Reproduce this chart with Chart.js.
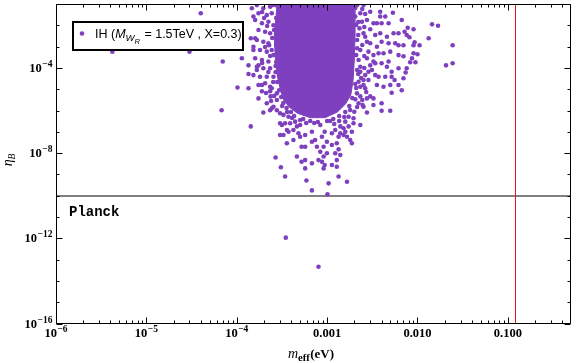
<!DOCTYPE html>
<html><head><meta charset="utf-8">
<script src="https://cdn.jsdelivr.net/npm/chart.js@4/dist/chart.umd.min.js"></script>
<style>html,body{margin:0;padding:0;background:#fff;}canvas{display:block;}</style>
</head><body>
<canvas id="c" width="576" height="363" style="width:576px;height:363px"></canvas>
<script>
// ---- data ----
const seriesLabel = 'IH';
// scattered points: m_eff (eV)
const mEff = [
4.2e-6,3.0e-5,4.0e-5,7.0e-5,6.8e-5,1.02e-4,1.14e-4,1.43e-4,1.35e-4,1.35e-4,1.35e-4,1.43e-4,1.47e-4,1.53e-4,1.53e-4,1.53e-4,1.53e-4,
1.60e-4,1.60e-4,1.60e-4,1.67e-4,1.67e-4,1.67e-4,1.67e-4,1.74e-4,1.74e-4,1.74e-4,1.74e-4,1.74e-4,1.81e-4,1.81e-4,1.90e-4,1.90e-4,1.90e-4,1.90e-4,
1.97e-4,1.97e-4,1.97e-4,1.97e-4,2.06e-4,2.06e-4,2.15e-4,2.15e-4,2.15e-4,2.15e-4,2.24e-4,2.24e-4,2.24e-4,2.34e-4,2.34e-4,2.34e-4,2.34e-4,2.34e-4,2.34e-4,
2.37e-4,2.44e-4,2.44e-4,2.44e-4,2.44e-4,2.55e-4,2.55e-4,2.55e-4,2.69e-4,2.78e-4,2.78e-4,2.78e-4,3.02e-4,3.02e-4,3.02e-4,3.08e-4,3.16e-4,3.29e-4,3.29e-4,
3.43e-4,3.43e-4,3.49e-4,3.59e-4,3.59e-4,3.74e-4,3.74e-4,3.90e-4,4.24e-4,4.24e-4,4.43e-4,4.63e-4,4.63e-4,4.82e-4,5.03e-4,5.03e-4,5.22e-4,5.22e-4,
5.72e-4,5.72e-4,5.72e-4,5.72e-4,5.91e-4,6.79e-4,6.79e-4,6.79e-4,6.79e-4,7.37e-4,7.71e-4,8.03e-4,8.03e-4,8.4e-4,8.77e-4,8.77e-4,9.15e-4,9.15e-4,9.15e-4,
9.4e-4,9.4e-4,9.95e-4,9.95e-4,1.01e-3,1.04e-3,1.13e-3,1.13e-3,1.13e-3,1.23e-3,1.23e-3,1.28e-3,1.28e-3,1.28e-3,1.34e-3,1.34e-3,1.34e-3,1.40e-3,1.40e-3,1.40e-3,
1.52e-3,1.52e-3,1.59e-3,1.59e-3,1.66e-3,1.66e-3,1.73e-3,1.73e-3,1.80e-3,1.88e-3,1.88e-3,1.96e-3,1.96e-3,2.0e-3,2.05e-3,2.05e-3,2.14e-3,2.23e-3,2.23e-3,2.23e-3,
2.28e-3,2.33e-3,2.33e-3,2.33e-3,2.33e-3,2.33e-3,2.33e-3,2.33e-3,2.43e-3,2.47e-3,2.53e-3,2.53e-3,2.53e-3,2.53e-3,2.53e-3,2.64e-3,2.64e-3,2.64e-3,2.64e-3,
2.76e-3,2.76e-3,2.76e-3,2.76e-3,2.76e-3,2.87e-3,2.87e-3,2.87e-3,3.0e-3,3.0e-3,3.0e-3,3.0e-3,3.0e-3,3.13e-3,3.26e-3,3.26e-3,3.26e-3,3.26e-3,3.26e-3,
3.41e-3,3.41e-3,3.41e-3,3.56e-3,3.56e-3,3.56e-3,3.71e-3,3.71e-3,3.87e-3,3.87e-3,3.87e-3,4.01e-3,4.01e-3,4.01e-3,4.01e-3,4.01e-3,4.21e-3,4.21e-3,
4.40e-3,4.40e-3,4.59e-3,4.59e-3,4.79e-3,4.79e-3,4.79e-3,5.0e-3,5.0e-3,5.0e-3,5.18e-3,5.18e-3,5.18e-3,5.35e-3,5.44e-3,5.58e-3,5.67e-3,
6.17e-3,6.17e-3,6.17e-3,6.17e-3,6.17e-3,6.7e-3,6.7e-3,7.0e-3,7.0e-3,7.0e-3,7.2e-3,7.4e-3,7.6e-3,7.6e-3,7.8e-3,8.15e-3,8.3e-3,8.7e-3,
9.05e-3,9.05e-3,9.05e-3,9.3e-3,9.5e-3,1.0e-2,1.055e-2,1.33e-2,1.45e-2,1.69e-2,2.07e-2,2.45e-2,2.45e-2,
2.69e-4,2.73e-4,2.59e-4,2.73e-4,2.55e-4,2.73e-4,2.69e-4,2.8e-4,2.95e-4,3.1e-4,3.28e-4,3.56e-4,3.99e-4,4.32e-4,
2.05e-3,2.1e-3,2.15e-3,2.1e-3,2.15e-3,2.05e-3,1.9e-3,1.76e-3,1.59e-3,1.36e-3,1.17e-3,1.0e-3,7.9e-4,6.5e-4,5.44e-4,
1.91e-4,2.17e-4,2.47e-4,2.06e-4,2.34e-4,1.91e-4,2.24e-4,2.53e-4,2.11e-4,2.59e-4,2.47e-4,2.01e-4,2.28e-4,2.69e-4,2.40e-4,
2.15e-3,2.45e-3,2.21e-3,2.58e-3,2.21e-3,2.45e-3,2.15e-3,2.58e-3,2.21e-3,2.58e-3,2.38e-3,2.1e-3,2.71e-3,2.45e-3,2.15e-3,
1.80e-3,1.55e-3,1.36e-3,1.20e-3,1.08e-3,8.4e-4,7.2e-4,5.87e-4,5.03e-4,4.1e-4,3.61e-4,3.18e-4
];
// scattered points: eta_B
const etaB = [
5.8e-4,5.8e-4,3.66e-2,2.0e-4,1.03e-6,1.2e-5,2.82e-4,1.79e-7,5.2e-5,1.32e-4,1.1e-5,2.45e-3,6.3e-2,2.6e-2,9.9e-4,6.9e-4,4.6e-5,
2.45e-3,1.77e-2,2.82e-4,8.9e-2,2.04e-3,1.14e-4,7.95e-5,3.66e-2,6.0e-3,1.32e-4,1.57e-5,3.7e-6,6.9e-4,3.86e-5,1.24e-2,2.35e-4,1.57e-5,8.0e-6,
6.3e-2,1.70e-3,9.6e-5,8.1e-7,5.0e-3,1.89e-5,3.0e-2,5.8e-4,3.86e-5,2.18e-6,1.47e-2,1.43e-3,2.0e-4,7.5e-2,4.2e-3,9.6e-5,1.31e-5,8.0e-6,1.03e-6,
4.6e-6,1.27e-6,3.66e-2,6.9e-4,1.1e-5,1.0e-2,3.86e-5,1.5e-6,6.2e-9,6.4e-6,3.1e-6,1.03e-6,7.4e-7,2.5e-7,7.1e-8,2.15e-9,2.1e-7,6.2e-7,7.1e-8,
2.5e-7,8.0e-10,1.07e-12,1.21e-7,2.9e-8,5.1e-7,1.01e-7,2.5e-7,1.21e-7,4.1e-8,3.0e-7,1.79e-7,6.9e-9,8.5e-8,2.1e-7,5.9e-8,2.0e-8,3.95e-9,
7.1e-8,2.0e-8,4.7e-9,1.91e-9,5.2e-10,1.01e-7,3.4e-8,3.3e-9,1.77e-10,4.1e-8,2.0e-8,4.7e-9,4.6e-14,1.16e-8,5.9e-8,3.95e-9,2.0e-8,6.9e-9,1.91e-9,
2.76e-9,1.01e-7,3.4e-8,9.8e-9,1.16e-10,3.8e-10,8.5e-8,2.4e-8,2.76e-9,1.21e-7,9.8e-9,2.9e-8,4.7e-9,2.3e-9,5.9e-8,1.5e-8,8.0e-10,1.79e-7,8.5e-8,8.1e-9,
1.46e-7,7.1e-8,3.0e-7,1.01e-7,5.9e-8,4.5e-10,5.1e-7,1.79e-7,4.1e-8,1.01e-7,2.9e-8,4.3e-7,2.5e-7,8.8e-7,3.35e-6,2.6e-2,6.4e-6,2.35e-4,2.25e-5,2.18e-6,
7.2e-3,3.66e-2,6.9e-4,1.14e-4,6.6e-5,1.31e-5,4.6e-6,2.1e-7,1.47e-2,1.81e-6,8.9e-2,4.2e-3,2.7e-5,1.57e-5,1.5e-6,3.4e-2,2.9e-3,4.6e-5,1.1e-5,
1.77e-2,1.70e-3,2.82e-4,3.7e-6,8.1e-7,5.8e-4,6.6e-5,2.7e-5,4.35e-2,6.5e-3,1.43e-3,1.32e-4,4.6e-6,7.95e-5,1.24e-2,4.0e-4,2.0e-4,3.7e-6,1.81e-6,
3.5e-3,1.64e-4,4.6e-5,1.24e-2,9.9e-4,1.57e-5,4.85e-4,3.86e-5,4.35e-2,2.6e-2,4.2e-3,1.24e-2,1.70e-3,1.64e-4,2.18e-6,9.8e-7,4.85e-4,1.31e-5,
2.6e-2,3.86e-5,2.9e-3,1.14e-4,1.24e-2,1.43e-3,2.0e-4,5.8e-4,1.57e-5,9.8e-7,6.6e-5,3.86e-5,6.8e-6,3.9e-2,4.2e-3,2.7e-5,1.43e-3,
4.2e-3,1.15e-3,4.0e-4,9.6e-5,1.57e-5,1.77e-2,8.9e-6,1.15e-3,3.5e-4,3.25e-5,5.0e-3,6.1e-5,3.5e-3,9.6e-5,7.7e-3,2.73e-3,1.83e-4,2.82e-4,
6.5e-3,1.15e-3,4.85e-4,1.59e-3,1.83e-4,4.4e-4,1.15e-3,2.45e-3,1.11e-2,9.6e-3,1.32e-4,1.15e-3,1.64e-4,
8.9e-2,2.2e-2,6.0e-3,1.15e-3,4.0e-4,1.89e-4,6.4e-5,2.18e-5,8.9e-6,4.3e-6,2.25e-6,1.31e-6,8.5e-7,5.5e-7,
6.5e-2,1.03e-2,2.04e-3,4.0e-4,7.95e-5,1.75e-5,3.86e-6,1.63e-6,8.5e-7,5.5e-7,4.0e-7,3.2e-7,2.9e-7,3.2e-7,4.0e-7,
4.2e-2,9.3e-3,2.53e-3,9.6e-4,3.62e-4,1.70e-4,6.4e-5,2.18e-5,6.6e-6,4.8e-6,8.9e-2,2.2e-2,1.15e-3,1.23e-4,2.79e-6,
8.9e-2,5.8e-2,1.43e-2,8.3e-3,3.5e-3,1.19e-3,8.3e-4,3.62e-4,5.2e-5,9.9e-5,3.36e-5,1.14e-5,7.4e-6,3.1e-6,1.46e-6,
1.05e-6,4.95e-7,3.2e-7,2.32e-7,3.2e-7,2.1e-7,2.59e-7,2.59e-7,3.6e-7,4.45e-7,8.5e-7,1.63e-6
];
// outline of the saturated (solid) part of the point cloud
const coreMEff = [2.8e-4,2.73e-4,2.6e-4,2.66e-4,2.8e-4,3.05e-4,3.3e-4,3.8e-4,4.7e-4,6.5e-4,9.5e-4,1.3e-3,1.6e-3,1.83e-3,1.94e-3,2.0e-3,2.04e-3,2.04e-3,2.04e-3,2.8e-4];
const coreEta  = [0.12,3.0e-2,3.5e-3,4.0e-4,4.6e-5,8.9e-6,3.1e-6,1.46e-6,7.4e-7,4.6e-7,4.6e-7,8.5e-7,2.02e-6,5.35e-6,2.7e-5,2.35e-4,3.5e-3,3.0e-2,0.12,0.12];
// reference lines
const planckEta = 1e-10;
const mEffBound = 0.12;
// axes
const xMin = 1e-6, xMax = 0.5, yMin = 1e-16, yMax = 1e-1;
const xTickValues = [1e-6,1e-5,1e-4,1e-3,1e-2,1e-1];
const xTickLabels = [['10','\u22126'],['10','\u22125'],['10','\u22124'],['0.001',''],['0.010',''],['0.100','']];
const yTickValues = [1e-16,1e-15,1e-14,1e-13,1e-12,1e-11,1e-10,1e-9,1e-8,1e-7,1e-6,1e-5,1e-4,1e-3,1e-2,1e-1];
const yTickLabels = [['10','\u221216'],null,null,null,['10','\u221212'],null,null,null,['10','\u22128'],null,null,null,['10','\u22124'],null,null,null];

const PURPLE = '#7f40bf';
const BASE_FONT = 'bold 12.5px "Liberation Serif"';
const SUP_FONT = 'bold 9.5px "Liberation Serif"';

function labelWidth(ctx, lab) {
  ctx.font = BASE_FONT; let w = ctx.measureText(lab[0]).width;
  if (lab[1]) { ctx.font = SUP_FONT; w += ctx.measureText(lab[1]).width + 0.5; }
  return w;
}
function drawLabel(ctx, lab, x, base) {
  ctx.font = BASE_FONT; ctx.fillText(lab[0], x, base);
  if (lab[1]) { const w = ctx.measureText(lab[0]).width; ctx.font = SUP_FONT; ctx.fillText(lab[1], x + w + 0.5, base - 5); }
}

const decorPlugin = {
  id: 'decor',
  beforeDatasetsDraw(chart) {
    const ctx = chart.ctx, a = chart.chartArea, xs = chart.scales.x, ys = chart.scales.y;
    ctx.save();
    // Planck line
    const py = Math.round(ys.getPixelForValue(planckEta));
    ctx.strokeStyle = '#808080'; ctx.lineWidth = 2;
    ctx.beginPath(); ctx.moveTo(a.left, py); ctx.lineTo(a.right, py); ctx.stroke();
    // m_eff bound
    const px = Math.round(xs.getPixelForValue(mEffBound)) + 0.5;
    ctx.strokeStyle = '#e8141c'; ctx.lineWidth = 1;
    ctx.beginPath(); ctx.moveTo(px, a.top); ctx.lineTo(px, a.bottom); ctx.stroke();
    ctx.restore();
  },
  afterDatasetsDraw(chart) {
    const ctx = chart.ctx;
    const a = chart.chartArea;
    ctx.save();
    // Planck label
    ctx.fillStyle = '#000';
    ctx.font = 'bold 14px "Liberation Mono"';
    ctx.textBaseline = 'alphabetic';
    ctx.textAlign = 'left';
    ctx.fillText('Planck', a.left + 13, 216);
    // legend box
    const bx = a.left + 17, by = 22, bw = 170, bh = 28;
    ctx.fillStyle = '#fff';
    ctx.fillRect(bx, by, bw, bh);
    ctx.strokeStyle = '#000';
    ctx.lineWidth = 2;
    ctx.strokeRect(bx, by, bw, bh);
    ctx.fillStyle = PURPLE;
    ctx.beginPath(); ctx.arc(bx + 9, by + 11.5, 2.3, 0, Math.PI * 2); ctx.fill();
    ctx.fillStyle = '#000';
    let x = bx + 22; const base = by + 16;
    ctx.font = '12.5px "Liberation Sans"';
    ctx.fillText(seriesLabel + ' (', x, base); x += ctx.measureText(seriesLabel + ' (').width;
    ctx.font = 'italic 12.5px "Liberation Sans"';
    ctx.fillText('M', x, base); x += ctx.measureText('M').width;
    ctx.font = 'italic 9.5px "Liberation Sans"';
    ctx.fillText('W', x, base + 3); x += ctx.measureText('W').width;
    ctx.font = 'italic 7.5px "Liberation Sans"';
    ctx.fillText('R', x, base + 5.5); x += ctx.measureText('R').width + 1;
    ctx.font = '12.5px "Liberation Sans"';
    ctx.fillText(' = 1.5TeV , X=0.3)', x, base);
    ctx.restore();
  },
  afterDraw(chart) {
    const ctx = chart.ctx;
    const a = chart.chartArea;
    const xs = chart.scales.x, ys = chart.scales.y;
    const L = Math.round(a.left) + 0.5, R = Math.round(a.right) - 0.5;
    const T = Math.round(a.top) + 0.5, B = Math.round(a.bottom) - 0.5;
    ctx.save();
    ctx.strokeStyle = '#000';
    ctx.lineWidth = 1;
    ctx.beginPath();
    ctx.rect(L, T, R - L, B - T);
    // x ticks (inward, bottom and top)
    const xt = (v, len) => { const p = Math.round(xs.getPixelForValue(v)) + 0.5; ctx.moveTo(p, B); ctx.lineTo(p, B - len); ctx.moveTo(p, T); ctx.lineTo(p, T + len); };
    xTickValues.forEach(v => xt(v, 6));
    for (let d = -6; d <= -1; d++) for (let m = 2; m <= 9; m++) { const v = m * Math.pow(10, d); if (v < xMax) xt(v, 3); }
    // y ticks (inward, left and right)
    yTickValues.forEach((v, i) => {
      const len = yTickLabels[i] ? 6 : 3;
      const p = Math.round(ys.getPixelForValue(v)) + 0.5;
      ctx.moveTo(L, p); ctx.lineTo(L + len, p); ctx.moveTo(R, p); ctx.lineTo(R - len, p);
    });
    ctx.stroke();
    // tick labels
    ctx.fillStyle = '#000';
    ctx.textAlign = 'left'; ctx.textBaseline = 'alphabetic';
    xTickValues.forEach((v, i) => {
      const lab = xTickLabels[i];
      const p = xs.getPixelForValue(v);
      const w = labelWidth(ctx, lab);
      drawLabel(ctx, lab, p - w / 2, B + 13.5);
    });
    yTickValues.forEach((v, i) => {
      const lab = yTickLabels[i];
      if (!lab) return;
      const p = ys.getPixelForValue(v);
      const w = labelWidth(ctx, lab);
      drawLabel(ctx, lab, a.left - 3.5 - w, p + 4);
    });
    // x axis title  m_eff(eV)
    let x = 288; const base = 357.5;
    ctx.font = 'italic 14px "Liberation Serif"';
    ctx.fillText('m', x, base); x += ctx.measureText('m').width;
    ctx.font = 'bold 10.5px "Liberation Serif"';
    ctx.fillText('eff', x, base + 3.5); x += ctx.measureText('eff').width + 0.5;
    ctx.font = 'bold 13px "Liberation Serif"';
    ctx.fillText('(eV)', x, base);
    // y axis title  eta_B
    ctx.save();
    ctx.translate(12, 160);
    ctx.rotate(-Math.PI / 2);
    ctx.font = 'italic 14px "Liberation Serif"';
    const w1 = ctx.measureText('\u03B7').width;
    ctx.font = 'italic 9.5px "Liberation Serif"';
    const w2 = ctx.measureText('B').width;
    let s = -(w1 + w2) / 2;
    ctx.font = 'italic 14px "Liberation Serif"';
    ctx.fillText('\u03B7', s, 0);
    ctx.font = 'italic 9.5px "Liberation Serif"';
    ctx.fillText('B', s + w1, 3);
    ctx.restore();
    ctx.restore();
  }
};

new Chart(document.getElementById('c'), {
  type: 'scatter',
  data: {
    datasets: [
      { type: 'line', label: 'core', data: coreMEff.map((v, i) => ({ x: v, y: coreEta[i] })),
        borderColor: PURPLE, backgroundColor: PURPLE, borderWidth: 1, pointRadius: 0, tension: 0, fill: 'shape', order: 2 },
      { label: seriesLabel, data: mEff.map((v, i) => ({ x: v, y: etaB[i] })),
        backgroundColor: PURPLE, borderWidth: 0, pointRadius: 2.3, order: 1 }
    ]
  },
  options: {
    responsive: false, animation: false, devicePixelRatio: 1,
    layout: { padding: { top: 4, right: 5, left: 0, bottom: 0 } },
    plugins: { legend: { display: false }, tooltip: { enabled: false } },
    scales: {
      x: {
        type: 'logarithmic', min: xMin, max: xMax,
        afterBuildTicks: s => { s.ticks = xTickValues.map(v => ({ value: v })); },
        afterFit: s => { s.height = 39.5; },
        grid: { display: false, drawTicks: false }, border: { display: false },
        ticks: { display: false }
      },
      y: {
        type: 'logarithmic', min: yMin, max: yMax,
        afterBuildTicks: s => { s.ticks = yTickValues.map(v => ({ value: v })); },
        afterFit: s => { s.width = 56; },
        grid: { display: false, drawTicks: false }, border: { display: false },
        ticks: { display: false }
      }
    }
  },
  plugins: [decorPlugin]
});
</script>
</body></html>
